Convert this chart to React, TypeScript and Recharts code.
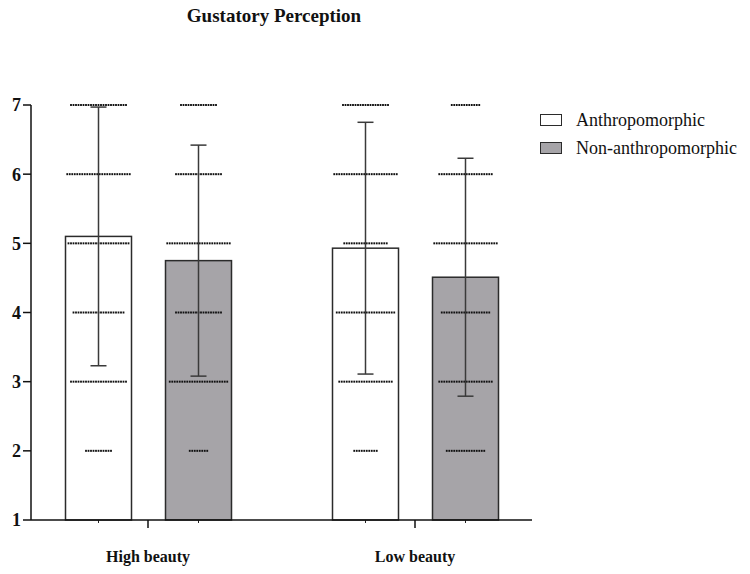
import React from 'react';
import { BarChart, Bar, XAxis, YAxis, ErrorBar } from 'recharts';

const groups = ['High beauty', 'Low beauty'];
const seriesNames = ['Anthropomorphic', 'Non-anthropomorphic'];
const seriesFills = ['#ffffff', '#a6a4a8'];

const anthroMeans = [5.1, 4.93];
const nonAnthroMeans = [4.75, 4.51];
const anthroSD = [1.87, 1.82];
const nonAnthroSD = [1.67, 1.72];

// individual responses, counted per rating
const ratings = [2, 3, 4, 5, 6, 7];
const anthroCounts = [
  [11, 23, 21, 25, 26, 23],
  [10, 22, 24, 18, 26, 19],
];
const nonAnthroCounts = [
  [8, 24, 19, 26, 19, 15],
  [16, 22, 20, 26, 22, 12],
];

const yTicks = [1, 2, 3, 4, 5, 6, 7];

const serif = "'Liberation Serif', 'Times New Roman', serif";

const data = groups.map((group, i) => ({
  group,
  anthro: anthroMeans[i],
  nonAnthro: nonAnthroMeans[i],
  anthroErr: anthroSD[i],
  nonAnthroErr: nonAnthroSD[i],
  anthroCounts: anthroCounts[i],
  nonAnthroCounts: nonAnthroCounts[i],
}));

// bar + the swarm of responses drawn on top of it
const makeShape = (fill: string, valueKey: string, countsKey: string) =>
  function BarShape(props: any) {
    const { x, y, width, height, payload } = props;
    const value = payload[valueKey];
    const bottom = y + height;
    const unit = height / (value - 1);
    const cx = x + width / 2;
    const dots: JSX.Element[] = [];
    payload[countsKey].forEach((n: number, r: number) => {
      const ry = bottom - (ratings[r] - 1) * unit;
      for (let i = 0; i < n; i++) {
        dots.push(
          <rect
            key={`${r}-${i}`}
            x={cx + (i - (n - 1) / 2) * 2.5 - 0.9}
            y={ry - 1}
            width={1.8}
            height={2}
            fill="#111"
          />
        );
      }
    });
    return (
      <g>
        <rect x={x} y={y} width={width} height={height} fill={fill} stroke="#2b2b2b" strokeWidth={1.5} />
        {dots}
        <line x1={cx} x2={cx} y1={bottom} y2={bottom + 3} stroke="#222" strokeWidth={1} />
      </g>
    );
  };

export default function App() {
  return (
    <div style={{ position: 'relative', width: 750, height: 574, background: '#fff' }}>
      <style>{`body { margin: 0; }`}</style>
      <div
        style={{
          position: 'absolute',
          top: 5,
          left: 0,
          width: 548,
          textAlign: 'center',
          fontFamily: serif,
          fontWeight: 'bold',
          fontSize: 19,
          color: '#111',
        }}
      >
        Gustatory Perception
      </div>
      <div
        style={{
          position: 'absolute',
          top: 106,
          left: 540,
          fontFamily: serif,
          fontSize: 18,
          color: '#111',
        }}
      >
        {seriesNames.map((name, i) => (
          <div key={name} style={{ display: 'flex', alignItems: 'center', height: 28 }}>
            <span
              style={{
                display: 'inline-block',
                width: 20,
                height: 10,
                background: seriesFills[i],
                border: '1.5px solid #2b2b2b',
                marginRight: 14,
              }}
            />
            {name}
          </div>
        ))}
      </div>
      <BarChart
        width={750}
        height={574}
        data={data}
        margin={{ top: 105, right: 218, left: 0, bottom: 0 }}
        barSize={66}
        barGap={34}
      >
        <XAxis
          dataKey="group"
          padding={{ left: -16.5, right: -16.5 }}
          height={54}
          stroke="#111"
          strokeWidth={1.5}
          tickSize={8}
          tickMargin={23}
          tick={{ fontFamily: serif, fontWeight: 'bold', fontSize: 16, fill: '#111' }}
        />
        <YAxis
          domain={[1, 7]}
          ticks={yTicks}
          width={31}
          stroke="#111"
          strokeWidth={1.5}
          tickSize={8}
          tickMargin={2}
          tick={{ fontFamily: serif, fontWeight: 'bold', fontSize: 18, fill: '#111' }}
        />
        <Bar
          dataKey="anthro"
          name={seriesNames[0]}
          fill={seriesFills[0]}
          shape={makeShape(seriesFills[0], 'anthro', 'anthroCounts')}
          isAnimationActive={false}
        >
          <ErrorBar dataKey="anthroErr" width={8} stroke="#3a3a3a" strokeWidth={1.5} direction="y" />
        </Bar>
        <Bar
          dataKey="nonAnthro"
          name={seriesNames[1]}
          fill={seriesFills[1]}
          shape={makeShape(seriesFills[1], 'nonAnthro', 'nonAnthroCounts')}
          isAnimationActive={false}
        >
          <ErrorBar dataKey="nonAnthroErr" width={8} stroke="#3a3a3a" strokeWidth={1.5} direction="y" />
        </Bar>
      </BarChart>
    </div>
  );
}
